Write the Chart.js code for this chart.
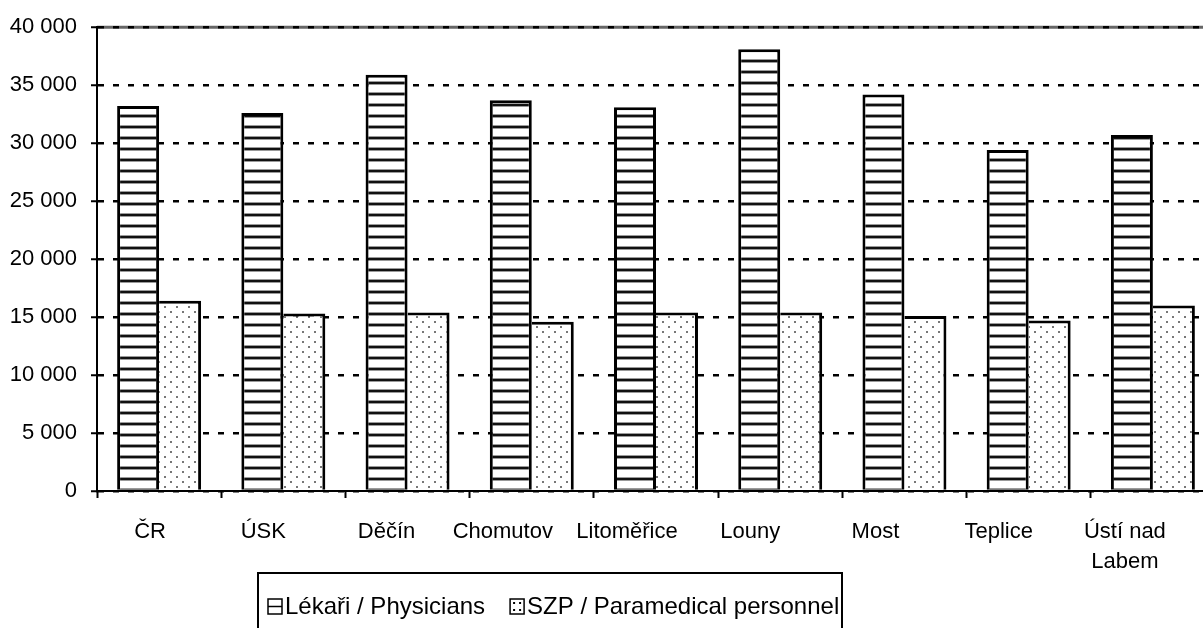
<!DOCTYPE html>
<html>
<head>
<meta charset="utf-8">
<script src="https://cdn.jsdelivr.net/npm/chart.js@4.4.0/dist/chart.umd.min.js"></script>
<style>
html,body{margin:0;padding:0;overflow:hidden;background:#fff;}
canvas{display:block;}
</style>
</head>
<body>
<canvas id="graf" width="1230" height="628"></canvas>
<script>
// okresy Ústeckého kraje
var okresy = ['ČR','ÚSK','Děčín','Chomutov','Litoměřice','Louny','Most','Teplice',['Ústí nad','Labem']];
var lekari = [33200,32600,35900,33700,33100,38100,34200,29400,30700];
var szp = [16400,15300,15400,14600,15400,15400,15100,14700,16000];
var nazvy = ['Lékaři / Physicians','SZP / Paramedical personnel'];
var osaMin = 0, osaMax = 40000, osaKrok = 5000;

var FONT = '"Liberation Sans", Arial, sans-serif';
// posun popisku osy x vuci stredu kategorie (jako v predloze)
var posunPopisku = [-9,-20,-21,-29,-29,-30,-29,-30,-28];

function mezery(v){
	return String(v).replace(/\B(?=(\d{3})+(?!\d))/g,' ');
}

//vzor - vodorovne pruhy
function vzorPruhy(ctx){
	var c = document.createElement('canvas');
	c.width = 8; c.height = 11;
	var x = c.getContext('2d');
	x.fillStyle = '#fff'; x.fillRect(0,0,8,11);
	x.fillStyle = '#9a9a9a'; x.fillRect(0,4,8,1);
	x.fillStyle = '#111'; x.fillRect(0,5,8,2);
	x.fillStyle = '#9a9a9a'; x.fillRect(0,7,8,1);
	return ctx.createPattern(c,'repeat');
}
//vzor - tecky
function vzorTecky(ctx){
	var c = document.createElement('canvas');
	c.width = 12; c.height = 10;
	var x = c.getContext('2d');
	x.fillStyle = '#fff'; x.fillRect(0,0,12,10);
	x.fillStyle = '#777';
	x.fillRect(2,1,2,2);
	x.fillRect(8,6,2,2);
	return ctx.createPattern(c,'repeat');
}

var el = document.getElementById('graf');
var ctx0 = el.getContext('2d');
var pruhy = vzorPruhy(ctx0);
var tecky = vzorTecky(ctx0);

var horniCara = {
	id:'horniCara',
	beforeDraw: function(chart){
		var a = chart.chartArea, ctx = chart.ctx;
		ctx.save();
		ctx.strokeStyle = '#666';
		ctx.lineWidth = 3;
		ctx.beginPath();
		ctx.moveTo(a.left, a.top);
		ctx.lineTo(a.right, a.top);
		ctx.stroke();
		ctx.restore();
	}
};

var popiskyX = {
	id:'popiskyX',
	afterDraw: function(chart){
		var sx = chart.scales.x, ctx = chart.ctx;
		ctx.save();
		ctx.font = '22px ' + FONT;
		ctx.fillStyle = '#000';
		ctx.textAlign = 'center';
		ctx.textBaseline = 'middle';
		chart.data.labels.forEach(function(l, i){
			var radky = [].concat(l);
			var x = sx.getPixelForTick(i) + (posunPopisku[i] || 0);
			radky.forEach(function(r, j){
				ctx.fillText(r, x, sx.top + 41 + j*30);
			});
		});
		ctx.restore();
	}
};

var legenda = {
	id:'legenda',
	afterDraw: function(chart){
		var ctx = chart.ctx;
		ctx.save();
		ctx.strokeStyle = '#000';
		ctx.lineWidth = 2;
		ctx.strokeRect(258, 573, 584, 90);
		ctx.font = '24px ' + FONT;
		ctx.textBaseline = 'middle';
		var y = 606, x = 268;
		chart.data.datasets.forEach(function(ds, i){
			//ikona
			ctx.fillStyle = '#fff';
			ctx.fillRect(x, y-7, 14, 15);
			ctx.strokeStyle = '#000';
			ctx.lineWidth = 1.5;
			ctx.strokeRect(x, y-7, 14, 15);
			if(i == 0){
				ctx.beginPath();
				ctx.moveTo(x, y+0.5);
				ctx.lineTo(x+14, y+0.5);
				ctx.stroke();
			} else {
				ctx.fillStyle = '#000';
				ctx.fillRect(x+3, y-4, 2, 2);
				ctx.fillRect(x+3, y+3, 2, 2);
				ctx.fillRect(x+9, y-4, 2, 2);
				ctx.fillRect(x+9, y+3, 2, 2);
			}
			ctx.fillStyle = '#000';
			ctx.fillText(ds.label, x+17, y+1);
			x += 17 + ctx.measureText(ds.label).width + 25;
		});
		ctx.restore();
	}
};

var graf = new Chart(el, {
	type: 'bar',
	data: {
		labels: okresy,
		datasets: [
			{
				label: nazvy[0],
				data: lekari,
				backgroundColor: pruhy,
				borderColor: '#000',
				borderWidth: {top:3,left:3,right:3,bottom:0},
				borderSkipped: false,
				categoryPercentage: 0.676,
				barPercentage: 1
			},
			{
				label: nazvy[1],
				data: szp,
				backgroundColor: tecky,
				borderColor: '#000',
				borderWidth: {top:3,left:0,right:3,bottom:0},
				borderSkipped: false,
				categoryPercentage: 0.676,
				barPercentage: 1
			}
		]
	},
	options: {
		responsive: false,
		devicePixelRatio: 1,
		animation: false,
		layout: { padding: { top: 26, right: 15, left: 0, bottom: 0 } },
		plugins: {
			legend: { display: false },
			tooltip: { enabled: false }
		},
		scales: {
			x: {
				grid: {
					display: true,
					drawOnChartArea: false,
					drawTicks: true,
					tickLength: 7,
					tickColor: '#000',
					tickWidth: 2,
					offset: true
				},
				border: { display: true, color: '#000', width: 2 },
				ticks: { display: false },
				afterFit: function(s){ s.height = 137; }
			},
			y: {
				min: osaMin,
				max: osaMax,
				grid: {
					color: '#000',
					lineWidth: 2.5,
					drawTicks: true,
					tickLength: 6,
					tickColor: '#000',
					tickWidth: 2
				},
				border: { display: true, color: '#000', width: 2, dash: [6,9] },
				ticks: {
					stepSize: osaKrok,
					color: '#000',
					padding: 14,
					font: { family: FONT, size: 22 },
					callback: function(v){ return mezery(v); }
				},
				afterFit: function(s){ s.width = 97; }
			}
		}
	},
	plugins: [horniCara, popiskyX, legenda]
});
</script>
</body>
</html>
